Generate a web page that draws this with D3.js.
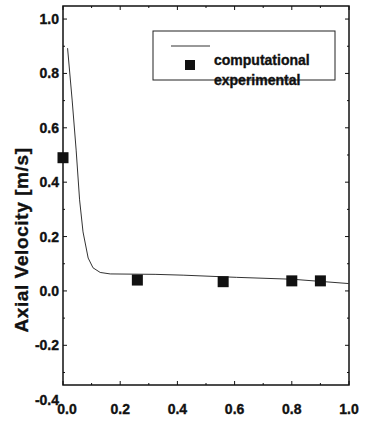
<!DOCTYPE html>
<html>
<head>
<meta charset="utf-8">
<script src="https://cdn.jsdelivr.net/npm/d3@7"></script>
<style>
  html, body { margin: 0; padding: 0; background: #fff; }
  svg text { font-family: Arial, "Liberation Sans", Helvetica, sans-serif; font-weight: bold; fill: #111; stroke: #111; stroke-width: 0.35; }
</style>
</head>
<body>
<svg id="chart" width="366" height="422"></svg>
<script>
// Computed axial velocity profile
const computedX = [0.016, 0.032, 0.046, 0.058, 0.070, 0.088, 0.105, 0.130, 0.165, 0.322, 0.42, 0.606, 0.802, 1.0];
const computedY = [0.893, 0.702, 0.518, 0.335, 0.217, 0.121, 0.085, 0.068, 0.0625, 0.061, 0.058, 0.050, 0.043, 0.027];

// Measured axial velocity
const measuredX = [0.0, 0.26, 0.56, 0.80, 0.90];
const measuredY = [0.49, 0.040, 0.034, 0.037, 0.037];

// Axis ticks
const xTicks = [0.0, 0.2, 0.4, 0.6, 0.8, 1.0];
const xTickLabels = ["0.0", "0.2", "0.4", "0.6", "0.8", "1.0"];
const yTicks = [-0.4, -0.2, 0.0, 0.2, 0.4, 0.6, 0.8, 1.0];
const yTickLabels = ["-0.4", "-0.2", "0.0", "0.2", "0.4", "0.6", "0.8", "1.0"];
const xMinor = [0.1, 0.3, 0.5, 0.7, 0.9];
const yMinor = [-0.3, -0.1, 0.1, 0.3, 0.5, 0.7, 0.9];

const legendLabels = ["computational", "experimental"];
const yTitle = "Axial Velocity [m/s]";

const svg = d3.select("#chart");
const plot = { left: 63, right: 349, top: 6, bottom: 385 };

const x = d3.scaleLinear().domain([0, 1]).range([plot.left, plot.right]);
const y = d3.scaleLinear().domain([-0.346, 1.048]).range([plot.bottom, plot.top]);

// Inward ticks on all four sides
const ink = "#111";
const tickG = svg.append("g").attr("stroke", ink).attr("stroke-width", 1);
function vTicks(vals, len) {
  vals.forEach(v => {
    tickG.append("line").attr("x1", x(v)).attr("x2", x(v)).attr("y1", plot.bottom).attr("y2", plot.bottom - len);
    tickG.append("line").attr("x1", x(v)).attr("x2", x(v)).attr("y1", plot.top).attr("y2", plot.top + len);
  });
}
function hTicks(vals, len) {
  vals.forEach(v => {
    if (y(v) < plot.top || y(v) > plot.bottom) return;
    tickG.append("line").attr("y1", y(v)).attr("y2", y(v)).attr("x1", plot.left).attr("x2", plot.left + len);
    tickG.append("line").attr("y1", y(v)).attr("y2", y(v)).attr("x1", plot.right).attr("x2", plot.right - len);
  });
}
vTicks(xTicks, 4); vTicks(xMinor, 2);
hTicks(yTicks, 4); hTicks(yMinor, 2);

// Frame
svg.append("rect")
  .attr("x", plot.left).attr("y", plot.top)
  .attr("width", plot.right - plot.left).attr("height", plot.bottom - plot.top)
  .attr("fill", "none").attr("stroke", ink).attr("stroke-width", 1.5);

// Tick labels (the origin label is nudged right, clear of the y axis)
svg.append("g").selectAll("text").data(xTicks).join("text")
  .attr("x", (d, i) => x(d) + (i === 0 ? 4 : 0)).attr("y", 414)
  .attr("text-anchor", "middle").attr("font-size", 14)
  .text((d, i) => xTickLabels[i]);

svg.append("g").selectAll("text").data(yTicks).join("text")
  .attr("x", 59).attr("y", d => y(d)).attr("dy", "0.36em")
  .attr("text-anchor", "end").attr("font-size", 14)
  .text((d, i) => yTickLabels[i]);

// Y axis title
svg.append("text")
  .attr("transform", "translate(28,240) rotate(-90)")
  .attr("text-anchor", "middle").attr("font-size", 19)
  .attr("letter-spacing", 0.6)
  .text(yTitle);

// Computed profile
const line = d3.line().x(d => x(d[0])).y(d => y(d[1]));
svg.append("path")
  .datum(d3.zip(computedX, computedY))
  .attr("d", line)
  .attr("fill", "none").attr("stroke", "#333").attr("stroke-width", 1);

// Measured points
const sq = 11;
svg.append("g").selectAll("rect").data(d3.zip(measuredX, measuredY)).join("rect")
  .attr("x", d => x(d[0]) - sq / 2).attr("y", d => y(d[1]) - sq / 2)
  .attr("width", sq).attr("height", sq).attr("fill", ink);

// Legend
const lg = svg.append("g");
lg.append("rect").attr("x", 153).attr("y", 31).attr("width", 182).attr("height", 49)
  .attr("fill", "#fff").attr("stroke", "#222").attr("stroke-width", 1);
lg.append("line").attr("x1", 171).attr("x2", 210).attr("y1", 46).attr("y2", 46)
  .attr("stroke", "#333").attr("stroke-width", 1);
lg.append("rect").attr("x", 185).attr("y", 60).attr("width", 10).attr("height", 10).attr("fill", ink);
lg.append("text").attr("x", 214).attr("y", 65).attr("font-size", 14).text(legendLabels[0]);
lg.append("text").attr("x", 214).attr("y", 85).attr("font-size", 14).text(legendLabels[1]);
</script>
</body>
</html>
